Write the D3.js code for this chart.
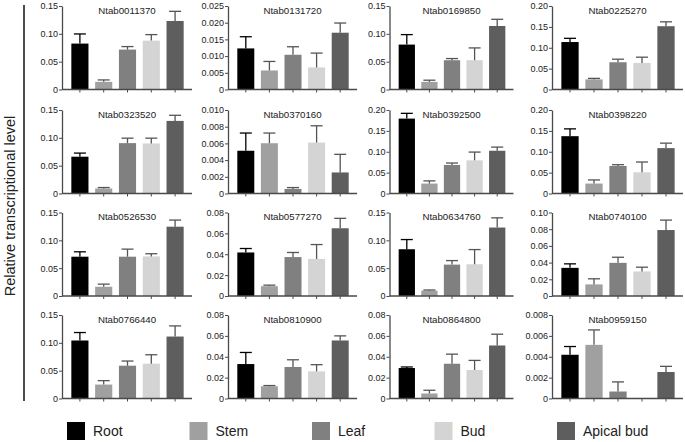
<!DOCTYPE html>
<html>
<head>
<meta charset="utf-8">
<script src="https://cdn.jsdelivr.net/npm/d3@7"></script>
<style>
  body { margin: 0; background: #fff; }
  text { font-family: "Liberation Sans", Arial, sans-serif; fill: #222; }
</style>
</head>
<body>
<script>
const tissues = ['Root', 'Stem', 'Leaf', 'Bud', 'Apical bud'];
const tissueColors = ['#000000', '#a0a0a0', '#808080', '#d4d4d4', '#5e5e5e'];

const genes = ['Ntab0011370', 'Ntab0131720', 'Ntab0169850', 'Ntab0225270',
    'Ntab0323520', 'Ntab0370160', 'Ntab0392500', 'Ntab0398220',
    'Ntab0526530', 'Ntab0577270', 'Ntab0634760', 'Ntab0740100',
    'Ntab0766440', 'Ntab0810900', 'Ntab0864800', 'Ntab0959150'];

// y axis max, tick step and decimals of the tick labels per panel
const yMax = [0.15, 0.025, 0.15, 0.20, 0.15, 0.010, 0.20, 0.20,
    0.15, 0.08, 0.15, 0.10, 0.15, 0.08, 0.08, 0.008];
const yStep = [0.05, 0.005, 0.05, 0.05, 0.05, 0.002, 0.05, 0.05,
    0.05, 0.02, 0.05, 0.02, 0.05, 0.02, 0.02, 0.002];
const yDecimals = [2, 3, 2, 2, 2, 3, 2, 2, 2, 2, 2, 2, 2, 2, 2, 3];

// mean expression (Root, Stem, Leaf, Bud, Apical bud)
const means = [
    [0.0825, 0.0137, 0.0717, 0.0878, 0.1231],
    [0.0123, 0.0057, 0.0104, 0.0066, 0.0170],
    [0.0807, 0.0137, 0.0526, 0.0526, 0.1141],
    [0.1137, 0.0242, 0.0653, 0.0637, 0.1516],
    [0.0661, 0.0089, 0.0905, 0.0899, 0.1304],
    [0.00512, 0.00602, 0.00055, 0.0061, 0.00252],
    [0.1794, 0.0238, 0.0683, 0.0794, 0.1024],
    [0.1373, 0.0238, 0.0659, 0.0508, 0.1087],
    [0.0706, 0.0166, 0.0706, 0.0711, 0.1245],
    [0.0417, 0.0094, 0.0373, 0.0355, 0.0649],
    [0.0840, 0.0096, 0.0564, 0.0570, 0.1230],
    [0.0337, 0.0139, 0.0397, 0.0294, 0.0790],
    [0.1042, 0.0250, 0.0589, 0.0625, 0.1113],
    [0.0330, 0.0117, 0.0302, 0.0260, 0.0556],
    [0.0292, 0.0048, 0.0333, 0.0273, 0.0508],
    [0.00419, 0.00514, 0.00067, 0, 0.00254]
];
// top of the error bar
const errTops = [
    [0.0998, 0.0172, 0.0771, 0.0986, 0.1404],
    [0.0158, 0.0084, 0.0128, 0.0109, 0.0199],
    [0.0986, 0.0167, 0.0556, 0.0747, 0.1261],
    [0.1226, 0.0266, 0.0726, 0.0774, 0.1621],
    [0.0726, 0.0107, 0.0994, 0.0994, 0.1405],
    [0.00724, 0.00724, 0.00071, 0.00811, 0.00469],
    [0.1920, 0.0302, 0.0730, 0.0992, 0.1111],
    [0.1548, 0.0325, 0.0690, 0.0754, 0.1206],
    [0.0794, 0.0213, 0.0842, 0.0759, 0.1364],
    [0.0455, 0.0104, 0.0417, 0.0493, 0.0744],
    [0.1014, 0.0108, 0.0636, 0.0834, 0.1404],
    [0.0385, 0.0206, 0.0464, 0.0345, 0.0909],
    [0.1185, 0.0321, 0.0673, 0.0786, 0.1304],
    [0.0441, 0.0124, 0.0371, 0.0324, 0.0600],
    [0.0302, 0.0079, 0.0425, 0.0365, 0.0616],
    [0.00498, 0.00657, 0.00159, 0, 0.00308]
];

const width = 685, height = 442;
const colX = [62, 228, 389.5, 552];
const colW = [130, 129, 124, 131];
const rowTop = [6, 110, 212.5, 315];
const plotH = 83.5;
const axisColor = '#4a4a4a';

const svg = d3.select('body').append('svg')
    .attr('width', width)
    .attr('height', height);

// y axis title and bracket line
svg.append('line')
    .attr('x1', 24).attr('x2', 24)
    .attr('y1', 5).attr('y2', 401)
    .attr('stroke', '#111').attr('stroke-width', 1.5);
svg.append('text')
    .attr('transform', 'translate(15,206) rotate(-90)')
    .attr('text-anchor', 'middle')
    .style('font-size', '14.5px')
    .text('Relative transcriptional level');

genes.forEach((gene, i) => {
    const col = i % 4, row = Math.floor(i / 4);
    const w = colW[col];
    const g = svg.append('g')
        .attr('transform', `translate(${colX[col]},${rowTop[row]})`);

    const x = d3.scaleBand()
        .domain(tissues)
        .range([6, w - 5])
        .paddingInner(0.28)
        .paddingOuter(0.14);
    const y = d3.scaleLinear()
        .domain([0, yMax[i]])
        .range([plotH, 0]);

    const ticks = d3.range(0, yMax[i] + yStep[i] / 2, yStep[i]);
    const fmt = d => d === 0 ? '0' : d.toFixed(yDecimals[i]);

    const rows = tissues.map((t, k) => ({ tissue: t, mean: means[i][k], err: errTops[i][k], color: tissueColors[k] }));

    // bars
    g.selectAll('rect.bar').data(rows.filter(d => d.mean > 0))
        .enter().append('rect')
        .attr('class', 'bar')
        .attr('x', d => x(d.tissue))
        .attr('y', d => y(d.mean))
        .attr('width', x.bandwidth())
        .attr('height', d => plotH - y(d.mean))
        .attr('fill', d => d.color);

    // error bars (upper only)
    const eb = g.selectAll('g.err').data(rows.filter(d => d.err > d.mean))
        .enter().append('g')
        .attr('class', 'err')
        .attr('stroke', d => d.tissue === 'Root' ? '#000' : '#555')
        .attr('stroke-width', 1.3);
    eb.append('line')
        .attr('x1', d => x(d.tissue) + x.bandwidth() / 2)
        .attr('x2', d => x(d.tissue) + x.bandwidth() / 2)
        .attr('y1', d => y(d.mean))
        .attr('y2', d => y(d.err));
    eb.append('line')
        .attr('x1', d => x(d.tissue) + x.bandwidth() / 2 - 6)
        .attr('x2', d => x(d.tissue) + x.bandwidth() / 2 + 6)
        .attr('y1', d => y(d.err))
        .attr('y2', d => y(d.err));

    // y axis
    const yAxis = g.append('g')
        .call(d3.axisLeft(y).tickValues(ticks).tickFormat(fmt).tickSize(3).tickPadding(1).tickSizeOuter(0));
    yAxis.select('.domain').attr('stroke', axisColor).attr('stroke-width', 1.3);
    yAxis.selectAll('.tick line').attr('stroke', axisColor).attr('stroke-width', 1);
    yAxis.selectAll('.tick text')
        .style('font-family', '"Liberation Sans", Arial, sans-serif')
        .style('font-size', '9px')
        .attr('fill', '#222');

    // x axis
    const xAxis = g.append('g')
        .attr('transform', `translate(0,${plotH})`)
        .call(d3.axisBottom(x).tickSize(3).tickFormat('').tickSizeOuter(0));
    xAxis.select('.domain').attr('d', `M0,0H${w}`).attr('stroke', axisColor).attr('stroke-width', 1.3);
    xAxis.selectAll('.tick line').attr('stroke', axisColor).attr('stroke-width', 1);

    // title
    g.append('text')
        .attr('x', w / 2)
        .attr('y', 7.5)
        .attr('text-anchor', 'middle')
        .style('font-size', '9.7px')
        .text(gene);
});

// legend
const lx = d3.scalePoint().domain(tissues).range([67, 557]);
const legend = svg.selectAll('g.legend').data(tissues)
    .enter().append('g')
    .attr('class', 'legend')
    .attr('transform', d => `translate(${lx(d)},422)`);
legend.append('rect')
    .attr('width', 18).attr('height', 18)
    .attr('fill', (d, k) => tissueColors[k]);
legend.append('text')
    .attr('x', 26)
    .attr('y', 14)
    .style('font-size', '14px')
    .text(d => d);
</script>
</body>
</html>
